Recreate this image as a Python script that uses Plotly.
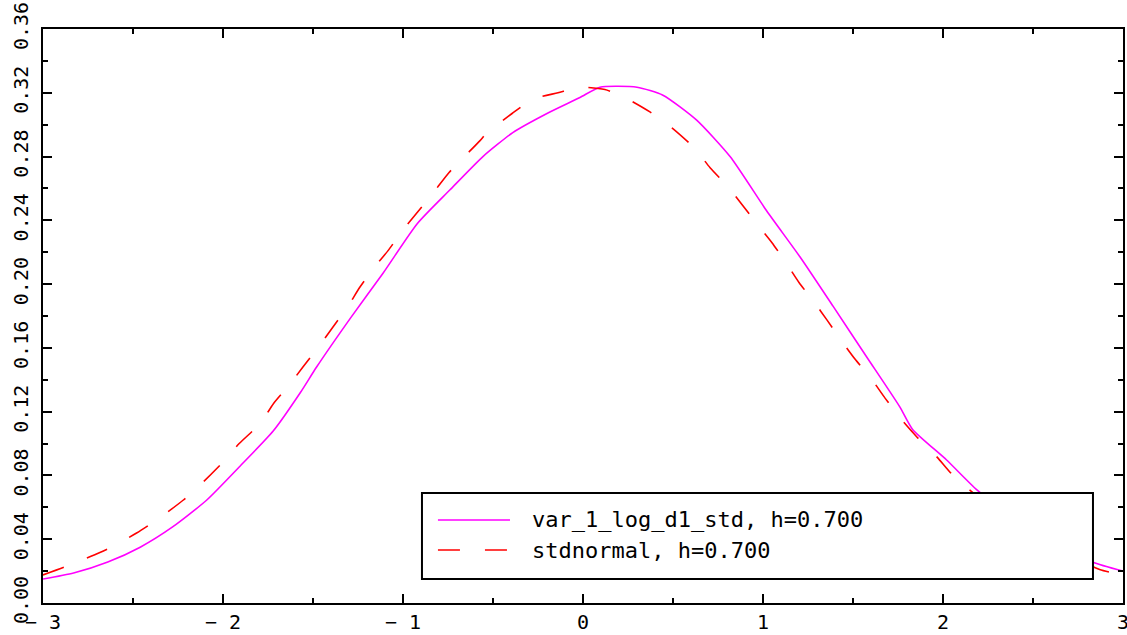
import plotly.graph_objects as go

# ---- data ----
kde_x = [-3.0, -2.83, -2.64, -2.46, -2.28, -2.09, -1.91, -1.72, -1.57, -1.48, -1.29, -1.11,
         -0.92, -0.74, -0.556, -0.39, -0.2, -0.017, 0.094, 0.3, 0.444, 0.63, 0.817, 1.02,
         1.206, 1.39, 1.578, 1.76, 1.83, 2.02, 2.19, 2.4, 2.6, 2.83, 3.0]
kde_y = [0.015, 0.0188, 0.0257, 0.035, 0.0477, 0.0646, 0.0853, 0.108, 0.132, 0.148, 0.179, 0.207,
         0.238, 0.259, 0.280, 0.295, 0.307, 0.317, 0.3235, 0.3235, 0.3185, 0.303, 0.280, 0.246,
         0.217, 0.186, 0.154, 0.123, 0.109, 0.0897, 0.0708, 0.053, 0.040, 0.0257, 0.020]

norm_x = [-3.0, -2.88, -2.74, -2.62, -2.48, -2.37, -2.22, -2.11, -2.0, -1.91, -1.79, -1.72,
          -1.63, -1.556, -1.46, -1.39, -1.306, -1.24, -1.156, -1.083, -1.0, -0.92, -0.82, -0.744,
          -0.572, -0.533, -0.394, -0.278, -0.139, -0.017, 0.122, 0.233, 0.372, 0.494, 0.622,
          0.706, 0.806, 0.883, 0.972, 1.05, 1.133, 1.2, 1.289, 1.356, 1.439, 1.511, 1.606,
          1.678, 1.772, 1.856, 1.967, 2.056, 2.2, 2.4, 2.6, 2.87, 3.0]
norm_y = [0.0176, 0.0226, 0.029, 0.035, 0.0439, 0.052, 0.0646, 0.0759, 0.0884, 0.100, 0.113, 0.125,
          0.137, 0.148, 0.162, 0.173, 0.186, 0.198, 0.211, 0.221, 0.234, 0.245, 0.259, 0.270,
          0.290, 0.295, 0.307, 0.316, 0.320, 0.3235, 0.322, 0.317, 0.308, 0.298, 0.285,
          0.273, 0.261, 0.250, 0.237, 0.226, 0.2125, 0.201, 0.188, 0.1774, 0.164, 0.153, 0.140,
          0.1285, 0.1147, 0.104, 0.0915, 0.080, 0.066, 0.049, 0.036, 0.021, 0.0176]

series_names = ["var_1_log_d1_std, h=0.700", "stdnormal, h=0.700"]
x_ticks = [-3, -2, -1, 0, 1, 2, 3]
y_ticks = [0.00, 0.04, 0.08, 0.12, 0.16, 0.20, 0.24, 0.28, 0.32, 0.36]

MAG = "#ff00ff"
RED = "#ff0000"
FONT = "DejaVu Sans Mono"

fig = go.Figure()
fig.add_trace(go.Scatter(x=kde_x, y=kde_y, mode="lines", name=series_names[0],
                         line=dict(color=MAG, width=1.6, shape="spline", smoothing=0.6),
                         showlegend=False))
fig.add_trace(go.Scatter(x=norm_x, y=norm_y, mode="lines", name=series_names[1],
                         line=dict(color=RED, width=1.6, dash="22px,25px",
                                   shape="spline", smoothing=0.6),
                         showlegend=False))

axis_common = dict(showgrid=False, zeroline=False, showline=True, linecolor="black",
                   linewidth=2, mirror="ticks", ticks="inside", tickcolor="black",
                   tickwidth=2, ticklen=9, ticklabeloverflow="allow", automargin=False)

fig.update_xaxes(range=[-3.00001, 3.00001], tickvals=x_ticks,
                 ticktext=[("\u2212\u2009" + str(abs(v))) if v < 0 else str(v) for v in x_ticks],
                 tickfont=dict(family=FONT, size=20, color="black"),
                 minor=dict(ticks="inside", ticklen=5, tickwidth=2, tickcolor="black", dtick=0.5),
                 **axis_common)
fig.update_yaxes(range=[0, 0.360001], tickvals=y_ticks,
                 ticktext=[f"{v:.2f}" for v in y_ticks], tickangle=-90,
                 tickfont=dict(family=FONT, size=20, color="black"),
                 ticklabelstandoff=5,
                 minor=dict(ticks="inside", ticklen=5, tickwidth=2, tickcolor="black", dtick=0.02),
                 **axis_common)

# legend drawn manually (paper coordinates)
lx0, lx1, ly0, ly1 = 0.3509, 0.9722, 0.0418, 0.1916
fig.add_shape(type="rect", xref="paper", yref="paper", x0=lx0, x1=lx1, y0=ly0, y1=ly1,
              line=dict(color="black", width=2), fillcolor="white", layer="above")
entry_y = [0.1446, 0.0923]
fig.add_shape(type="line", xref="paper", yref="paper", x0=0.3657, x1=0.4324,
              y0=entry_y[0], y1=entry_y[0], line=dict(color=MAG, width=1.6), layer="above")
fig.add_shape(type="line", xref="paper", yref="paper", x0=0.3657, x1=0.4324,
              y0=entry_y[1], y1=entry_y[1], line=dict(color=RED, width=1.6, dash="22px,25px"),
              layer="above")
for name, yy in zip(series_names, entry_y):
    fig.add_annotation(xref="paper", yref="paper", x=0.4509, y=yy, text=name,
                       showarrow=False, xanchor="left", yanchor="middle",
                       font=dict(family=FONT, size=22, color="black"))

fig.update_layout(width=1127, height=635, margin=dict(l=43, r=4, t=29, b=32),
                  paper_bgcolor="white", plot_bgcolor="white", showlegend=False)

fig.write_html("out.html")
